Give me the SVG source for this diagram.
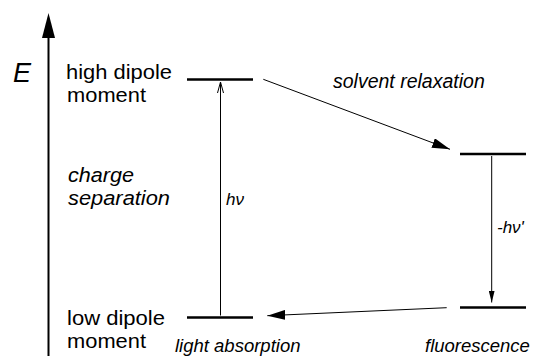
<svg xmlns="http://www.w3.org/2000/svg" width="533" height="356" viewBox="0 0 533 356">
<style>
text{font-family:"Liberation Sans",Arial,sans-serif;fill:#000}
.lbl{font-size:20.5px}
.big{font-size:20.5px;font-style:italic}
.it{font-size:18.5px;font-style:italic}
.sm{font-size:17px;font-style:italic}
.lvl{stroke:#000;stroke-width:2.5;fill:none}
.thin{stroke:#000;stroke-width:1;fill:none}
</style>
<defs>
<marker id="big" viewBox="0 0 18 10" refX="18" refY="5" markerWidth="18" markerHeight="10" markerUnits="userSpaceOnUse" orient="auto"><path d="M0,0 L18,5 L0,10 Z" fill="#000"/></marker>
<marker id="small" viewBox="0 0 12 6" refX="12" refY="3" markerWidth="12" markerHeight="6" markerUnits="userSpaceOnUse" orient="auto"><path d="M0,0 L12,3 L0,6 Z" fill="#000"/></marker>
<marker id="open" viewBox="0 0 11 7" refX="11" refY="3.5" markerWidth="11" markerHeight="7" markerUnits="userSpaceOnUse" orient="auto"><path d="M0,0.5 L11,3.5 L0,6.5" fill="none" stroke="#000" stroke-width="1"/></marker>
</defs>
<g id="axis">
<line x1="48.5" y1="356" x2="48.5" y2="36" stroke="#000" stroke-width="2"/>
<path d="M48.5,13 L42,38 L55,38 Z" fill="#000"/>
<text x="13" y="81.5" style="font-size:27px;font-style:italic">E</text>
</g>
<g id="labels-left">
<text class="lbl" x="66" y="78.5" textLength="106" lengthAdjust="spacingAndGlyphs">high dipole</text>
<text class="lbl" x="67" y="101.5" textLength="79" lengthAdjust="spacingAndGlyphs">moment</text>
<text class="big" x="68" y="181.5" textLength="66" lengthAdjust="spacingAndGlyphs">charge</text>
<text class="big" x="68" y="204.5" textLength="102" lengthAdjust="spacingAndGlyphs">separation</text>
<text class="lbl" x="67" y="324.5" textLength="98" lengthAdjust="spacingAndGlyphs">low dipole</text>
<text class="lbl" x="67" y="347.5" textLength="79" lengthAdjust="spacingAndGlyphs">moment</text>
</g>
<g id="high-level"><line class="lvl" x1="187" y1="79.5" x2="253" y2="79.5"/></g>
<g id="low-level"><line class="lvl" x1="187" y1="317.5" x2="253" y2="317.5"/></g>
<g id="relaxed-high-level"><line class="lvl" x1="460" y1="154" x2="526" y2="154"/></g>
<g id="relaxed-low-level"><line class="lvl" x1="460" y1="307.5" x2="526" y2="307.5"/></g>
<g id="connectors">
<line class="thin" x1="220.5" y1="315.5" x2="220.5" y2="82" marker-end="url(#open)"/>
<line class="thin" x1="263.3" y1="79.3" x2="450" y2="149.3" marker-end="url(#big)"/>
<line class="thin" x1="491.7" y1="156" x2="491.7" y2="302.5" marker-end="url(#small)"/>
<line class="thin" x1="446.7" y1="307.7" x2="267.3" y2="315.7" marker-end="url(#big)"/>
</g>
<g id="annotations">
<text class="it" x="333" y="88" style="font-size:19.5px">solvent relaxation</text>
<text class="sm" x="226" y="205">hν</text>
<text class="sm" x="497" y="233">-hν'</text>
<text class="it" x="175" y="352">light absorption</text>
<text class="it" x="425" y="352">fluorescence</text>
</g>
</svg>
